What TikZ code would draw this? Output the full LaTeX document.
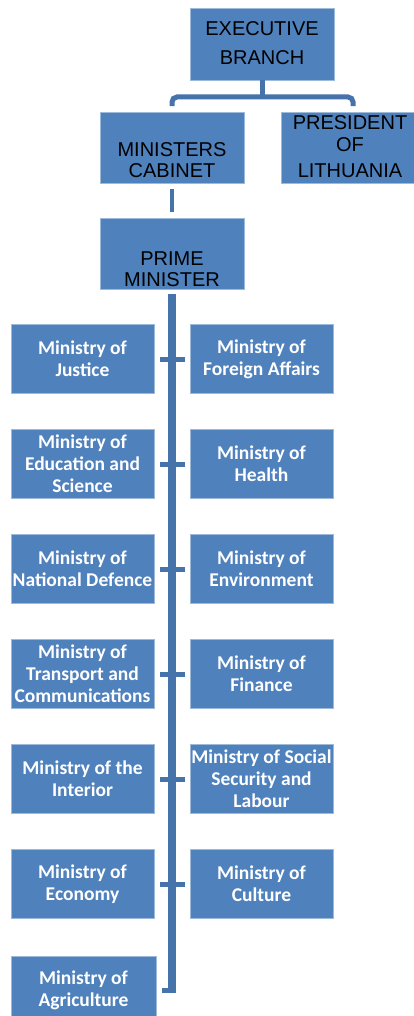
\documentclass[tikz,border=0pt]{standalone}
\usepackage{fontspec}
\newfontfamily\hdrfont{Liberation Sans}
\newfontfamily\minfont{Carlito}
\definecolor{boxblue}{HTML}{4F81BD}
\definecolor{lineblue}{HTML}{4674AA}
\begin{document}
\begin{tikzpicture}[x=1pt,y=-1pt,
  hbox/.style={rectangle, fill=boxblue, draw=boxblue!55!white, line width=0.6pt,
    minimum width=144pt, minimum height=71pt, inner sep=0pt},
  htext/.style={anchor=base, font=\hdrfont\fontsize{20}{24}\selectfont, text=black, inner sep=0pt},
  mbox/.style={rectangle, fill=boxblue, draw=boxblue!55!white, line width=0.6pt,
    minimum width=143pt, minimum height=69pt, inner sep=0pt, align=center, text=white,
    font=\minfont\bfseries\fontsize{19.5}{22}\selectfont},
  conn/.style={draw=lineblue, line width=5pt},
  stub/.style={draw=lineblue, line width=5pt, shorten <=6pt, shorten >=5pt},
]
\useasboundingbox[fill=white] (0,0) rectangle (414,1016);

% header boxes
\node[hbox, minimum height=72pt] (exec) at (262,44) {};
\node[htext] (exec1) at (262,36) {EXECUTIVE};
\node[htext] (exec2) at (262,64.5) {BRANCH};

\node[hbox] (cab) at (172,148) {};
\node[htext] (cab1) at (172,157) {MINISTERS};
\node[htext] (cab2) at (172,178) {CABINET};

\node[hbox] (pres) at (353,148) {};
\node[htext] (pres1) at (350,130) {PRESIDENT};
\node[htext] (pres2) at (350,152) {OF};
\node[htext] (pres3) at (350,178) {LITHUANIA};

\node[hbox] (pm) at (172,254) {};
\node[htext] (pm1) at (172,265) {PRIME};
\node[htext] (pm2) at (172,286) {MINISTER};

% top connectors
\coordinate (bus) at (262,97);
\draw[conn] (exec.south) -- (bus);
\draw[conn, rounded corners=5pt, shorten <=6pt, shorten >=6pt] (cab.north) |- (bus) -| (pres.north);
\draw[conn, line width=4pt, shorten <=5pt, shorten >=6pt] (cab.south) -- (pm.north);

% ministries
\node[mbox] (l1) at (82.5,359) {Ministry of\\Justice};
\node[mbox] (r1) at (261.5,359) {Ministry of\\Foreign Affairs};
\node[mbox] (l2) at (82.5,464) {Ministry of\\Education and\\Science};
\node[mbox] (r2) at (261.5,464) {Ministry of\\Health};
\node[mbox] (l3) at (82.5,569) {Ministry of\\National Defence};
\node[mbox] (r3) at (261.5,569) {Ministry of\\Environment};
\node[mbox] (l4) at (82.5,674) {Ministry of\\Transport and\\Communications};
\node[mbox] (r4) at (261.5,674) {Ministry of\\Finance};
\node[mbox] (l5) at (82.5,779) {Ministry of the\\Interior};
\node[mbox] (r5) at (261.5,779) {Ministry of Social\\Security and\\Labour};
\node[mbox] (l6) at (82.5,884) {Ministry of\\Economy};
\node[mbox] (r6) at (261.5,884) {Ministry of\\Culture};
\node[mbox, minimum width=145pt] (l7) at (83.5,990.5) {Ministry of\\Agriculture};

% spine
\coordinate (spend) at (172,992.5);
\draw[conn, line width=8pt, shorten <=4pt] (pm.south) -- (spend);
\draw[stub] (l1.east) -- (r1.west);
\draw[stub] (l2.east) -- (r2.west);
\draw[stub] (l3.east) -- (r3.west);
\draw[stub] (l4.east) -- (r4.west);
\draw[stub] (l5.east) -- (r5.west);
\draw[stub] (l6.east) -- (r6.west);
\draw[stub, shorten >=-4pt] (l7.east) -- (l7.east -| spend);
\end{tikzpicture}
\end{document}
